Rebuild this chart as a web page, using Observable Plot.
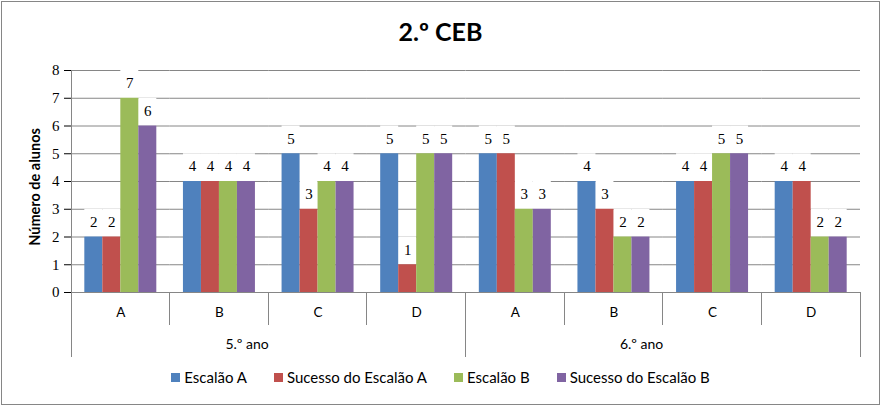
<!DOCTYPE html>
<html><head><meta charset="utf-8">
<script src="https://cdn.jsdelivr.net/npm/d3@7"></script>
<script src="https://cdn.jsdelivr.net/npm/@observablehq/plot@0.6"></script>
<style>
  body { margin: 0; background: #fff; }
  #wrap { position: absolute; left: 0; top: 0; width: 881px; height: 406px; overflow: hidden; }
  #border { position: absolute; left: 1px; top: 1px; width: 877px; height: 402px; border: 1px solid #868686; box-sizing: content-box; }
  #title { position: absolute; left: 0; top: 16px; width: 881px; text-align: center; font: bold 25px Lato, sans-serif; color: #000; }
  #chart { position: absolute; left: 0; top: 0; }
  #legend { position: absolute; left: 0; top: 368px; width: 881px; display: flex; justify-content: center; gap: 27px; font: 15px Lato, sans-serif; color: #000; }
  #legend .item { display: flex; align-items: center; gap: 4px; }
  #legend .sw { width: 9px; height: 9px; display: inline-block; }
  g[aria-label^="y-axis"] text { font-family: "Liberation Serif", serif; font-size: 15px; }
  g[aria-label^="y-axis"] line { stroke: #868686; }
</style>
</head><body>
<div id="wrap">
  <div id="border"></div>
  <div id="chart"></div>
  <div id="title"></div>
  <div id="legend"></div>
</div>
<script>
const title = "2.º CEB";
const yLabel = "Número de alunos";
const years = ["5.º ano", "6.º ano"];
const classes = ["A", "B", "C", "D"];
const series = ["Escalão A", "Sucesso do Escalão A", "Escalão B", "Sucesso do Escalão B"];
const colors = ["#4F81BD", "#C0504D", "#9BBB59", "#8064A2"];
const yTicks = [0, 1, 2, 3, 4, 5, 6, 7, 8];
// values per year, per class, in series order
const ano5 = [[2, 2, 7, 6], [4, 4, 4, 4], [5, 3, 4, 4], [5, 1, 5, 5]];
const ano6 = [[5, 5, 3, 3], [4, 3, 2, 2], [4, 4, 5, 5], [4, 4, 2, 2]];

const byYear = [ano5, ano6];
const rows = [];
const keys = [];
years.forEach((yr, yi) => classes.forEach((c, ci) => {
  const key = yr + "|" + c;
  keys.push(key);
  series.forEach((s, si) => rows.push({key, year: yr, cls: c, series: s, value: byYear[yi][ci][si]}));
}));
const yearLabelRows = years.map(yr => ({key: yr + "|" + classes[1], label: yr}));

const W = 881, H = 365;
const plot = Plot.plot({
  width: W, height: H,
  marginLeft: 71, marginRight: 21, marginTop: 70, marginBottom: 73,
  style: {fontFamily: "Lato, sans-serif", fontSize: "13.5px", color: "#000", background: "transparent"},
  fx: {domain: keys, padding: 0, round: false, axis: "bottom", tickSize: 0, tickPadding: 15, label: null, tickFormat: d => d.split("|")[1]},
  x: {domain: series, paddingInner: 0, paddingOuter: 0.74, round: false, axis: null},
  y: {domain: [0, 8], ticks: yTicks, tickSize: 7, tickPadding: 5, label: null, tickFormat: d => String(d)},
  color: {domain: series, range: colors},
  marks: [
    Plot.ruleY(yTicks, {y: d => d, stroke: "#868686", strokeWidth: 1}),
    Plot.barY(rows, {fx: "key", x: "series", y1: "value", y2: d => d.value + 1, fill: "white"}),
    Plot.barY(rows, {fx: "key", x: "series", y: "value", fill: "series"}),
    Plot.text(rows, {fx: "key", x: "series", y: "value", text: d => String(d.value), dy: -15, fontFamily: "Liberation Serif, serif", fontSize: 15, fill: "#000"}),
    Plot.text(yearLabelRows, {fx: "key", text: "label", frameAnchor: "bottom-right", dy: 56, fontSize: 14, fill: "#000"})
  ]
});
document.getElementById("chart").appendChild(plot);

// separators under the axis, placed from the facet scale
const fxs = plot.scale("fx");
const svg = d3.select(plot);
const x0 = fxs.range[0], x1 = fxs.range[1];
const step = (x1 - x0) / fxs.domain.length;
const yBase = H - 73;
const g = svg.append("g").attr("stroke", "#868686").attr("stroke-width", 1).attr("shape-rendering", "crispEdges");
for (let i = 0; i <= fxs.domain.length; i++) {
  const xp = x0 + i * step;
  const yearEdge = i % classes.length === 0;
  g.append("line").attr("x1", xp).attr("x2", xp)
    .attr("y1", i === 0 ? 70 : yBase).attr("y2", yearEdge ? yBase + 65 : yBase + 33);
}
g.append("line").attr("x1", x0).attr("x2", x1).attr("y1", yBase).attr("y2", yBase);
// y label
svg.append("text").attr("transform", `translate(40,187) rotate(-90)`).attr("text-anchor", "middle")
  .attr("font-family", "Lato, sans-serif").attr("font-weight", "bold").attr("font-size", 14.5).attr("fill", "#000").text(yLabel);

document.getElementById("title").textContent = title;
const leg = document.getElementById("legend");
series.forEach((s, i) => {
  const it = document.createElement("span"); it.className = "item";
  const sw = document.createElement("span"); sw.className = "sw"; sw.style.background = colors[i];
  const tx = document.createElement("span"); tx.textContent = s;
  it.appendChild(sw); it.appendChild(tx); leg.appendChild(it);
});
</script>
</body></html>
